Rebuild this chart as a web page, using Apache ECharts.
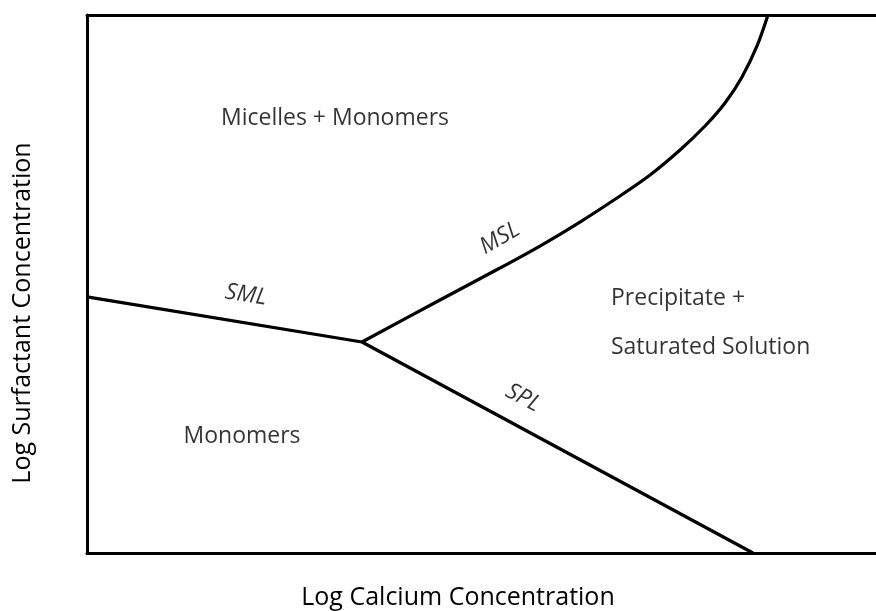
<!DOCTYPE html>
<html>
<head>
<meta charset="utf-8">
<script src="https://cdn.jsdelivr.net/npm/echarts@6/dist/echarts.min.js"></script>
<style>
  html, body { margin: 0; padding: 0; background: #fff; }
  #chart { width: 876px; height: 611px; }
</style>
</head>
<body>
<div id="chart"></div>
<script>
// phase boundaries, in arbitrary log units (0-100 on both axes)
var smlLine = [[0, 47.6], [34.85, 39.22]];
var splLine = [[34.85, 39.22], [84.41, 0]];
var mslLine = [
  [34.85, 39.22], [44.74, 47.03], [52.34, 52.97], [57.41, 57.06],
  [62.48, 61.52], [67.55, 66.36], [71.36, 70.26], [75.16, 74.91],
  [78.33, 79.37], [80.86, 83.64], [83.02, 88.48], [84.92, 94.24],
  [86.31, 100]
];

// region labels: [x, y, text]
var regionLabels = [
  [31.43, 80.86, "Micelles + Monomers"],
  [19.65, 21.75, "Monomers"]
];
var leftLabels = [
  [66.41, 47.4, "Precipitate +"],
  [66.41, 38.29, "Saturated Solution"]
];
// line names: [x, y, text, rotation]
var lineLabels = [
  [20.15, 47.96, "SML", -9],
  [52.34, 58.5, "MSL", 30],
  [55.26, 28.81, "SPL", -28]
];

var font = "'Open Sans', 'Noto Sans', sans-serif";

var chart = echarts.init(document.getElementById("chart"));

function lineSeries(data, smooth) {
  return {
    type: "line",
    data: data,
    showSymbol: false,
    smooth: smooth,
    lineStyle: { color: "#000", width: 3.2 },
    silent: true
  };
}

function textLabel(extra) {
  var l = {
    show: true, color: "#000", fontFamily: font, fontSize: 23,
    textBorderWidth: 0, textShadowBlur: 0
  };
  for (var k in extra) l[k] = extra[k];
  return l;
}

chart.setOption({
  animation: false,
  grid: { left: 87, right: 0, top: 15, bottom: 58 },
  xAxis: [
    {
      type: "value", min: 0, max: 100, position: "bottom",
      axisLine: { show: true, lineStyle: { color: "#000", width: 3 } },
      axisTick: { show: false }, axisLabel: { show: false },
      splitLine: { show: false }
    },
    {
      type: "value", min: 0, max: 100, position: "top",
      axisLine: { show: true, lineStyle: { color: "#000", width: 3 } },
      axisTick: { show: false }, axisLabel: { show: false },
      splitLine: { show: false }
    }
  ],
  yAxis: {
    type: "value", min: 0, max: 100,
    axisLine: { show: true, lineStyle: { color: "#000", width: 3 } },
    axisTick: { show: false }, axisLabel: { show: false },
    splitLine: { show: false }
  },
  graphic: [
    {
      type: "text", x: 458, y: 598,
      style: {
        text: "Log Calcium Concentration", font: "25px " + font, fill: "#000",
        align: "center", verticalAlign: "middle"
      }
    },
    {
      type: "text", x: 23, y: 313, rotation: Math.PI / 2,
      style: {
        text: "Log Surfactant Concentration", font: "25px " + font, fill: "#000",
        align: "center", verticalAlign: "middle"
      }
    }
  ],
  series: [
    lineSeries(smlLine, false),
    lineSeries(splLine, false),
    lineSeries(mslLine, 0.3),
    {
      type: "scatter", symbolSize: 0, silent: true,
      data: regionLabels,
      label: textLabel({ position: "inside", formatter: function (p) { return p.data[2]; } })
    },
    {
      type: "scatter", symbolSize: 0, silent: true,
      data: leftLabels,
      label: textLabel({ position: "right", distance: 0, formatter: function (p) { return p.data[2]; } })
    },
    {
      type: "scatter", symbolSize: 0, silent: true,
      data: lineLabels.map(function (d) {
        return { value: [d[0], d[1]], name: d[2], label: { rotate: d[3] } };
      }),
      label: textLabel({ position: "inside", formatter: "{b}", fontStyle: "italic" })
    }
  ]
});
</script>
</body>
</html>
